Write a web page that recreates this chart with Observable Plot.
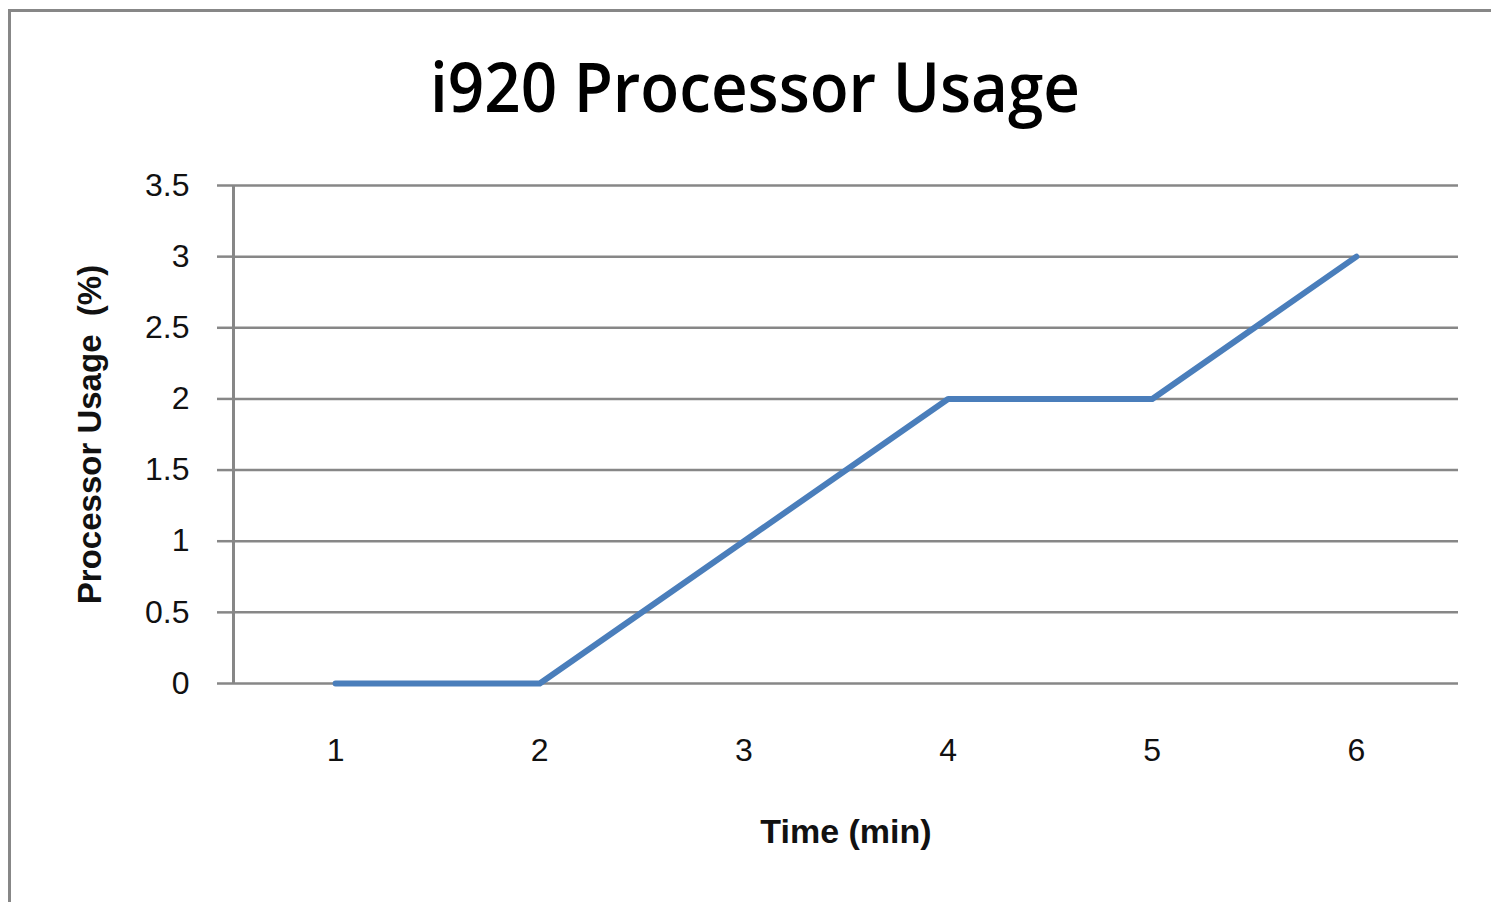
<!DOCTYPE html>
<html>
<head>
<meta charset="utf-8">
<script src="https://cdn.jsdelivr.net/npm/d3@7"></script>
<script src="https://cdn.jsdelivr.net/npm/@observablehq/plot@0.6"></script>
<style>
  html, body { margin: 0; padding: 0; background: #fff; }
  #wrap { position: relative; width: 1491px; height: 902px; overflow: hidden; background: #fff; }
  #frame { position: absolute; left: 8px; top: 9px; width: 1600px; height: 1000px; border: 3px solid #878787; box-sizing: border-box; }
  #title { position: absolute; left: 0; top: 0; }
  #chart { position: absolute; left: 0; top: 0; }
</style>
</head>
<body>
<div id="wrap">
  <div id="frame"></div>
  <div id="chart"></div>
  <svg id="title" width="1491" height="150"></svg>
</div>
<script>
const times = [1, 2, 3, 4, 5, 6];
const usage = [0, 0, 1, 2, 2, 3];
const xTicks = [1, 2, 3, 4, 5, 6];
const yTicks = [0, 0.5, 1, 1.5, 2, 2.5, 3, 3.5];
const titleText = "i920 Processor Usage";
const xLabel = "Time (min)";
const yLabel = "Processor Usage  (%)";

const data = times.map((t, i) => ({ time: t, usage: usage[i] }));

d3.select("#title").append("text")
  .attr("x", 755).attr("y", 112)
  .attr("text-anchor", "middle")
  .attr("font-family", "'Open Sans', sans-serif")
  .attr("font-size", 68)
  .attr("font-weight", 600)
  .attr("textLength", 650)
  .attr("lengthAdjust", "spacingAndGlyphs")
  .attr("fill", "#000")
  .text(titleText);

const gray = "#878787";
const chart = Plot.plot({
  width: 1491,
  height: 902,
  marginLeft: 233,
  marginRight: 33,
  marginTop: 185,
  marginBottom: 219,
  style: { fontFamily: "'Liberation Sans', Arial, sans-serif", fontSize: "32px", background: "transparent", color: "#000" },
  x: { domain: [0.5, 6.5] },
  y: { domain: [0, 3.5] },
  marks: [
    Plot.ruleY(yTicks, { stroke: gray, strokeWidth: 2.5 }),
    Plot.ruleX([0.5], { stroke: gray, strokeWidth: 3, y1: 0, y2: 3.5 }),
    Plot.axisY({ ticks: yTicks, tickSize: 16, tickPadding: 28, stroke: gray, strokeWidth: 2.5, fill: "#111", label: null, tickFormat: d => String(d) }),
    Plot.axisX({ ticks: xTicks, tickSize: 0, tickPadding: 55, fill: "#111", label: null, tickFormat: d => String(d) }),
    Plot.line(data, { x: "time", y: "usage", stroke: "#4a7ebb", strokeWidth: 6, strokeLinejoin: "round" }),
    Plot.text([xLabel], { text: d => d, frameAnchor: "bottom", dy: 159, lineAnchor: "bottom", fontWeight: "bold", fontSize: 34, fill: "#111" }),
    Plot.text([yLabel], { text: d => d, frameAnchor: "left", textAnchor: "middle", dx: -143, rotate: -90, lineAnchor: "middle", fontWeight: "bold", fontSize: 33, fill: "#111" })
  ]
});
document.getElementById("chart").appendChild(chart);
</script>
</body>
</html>
